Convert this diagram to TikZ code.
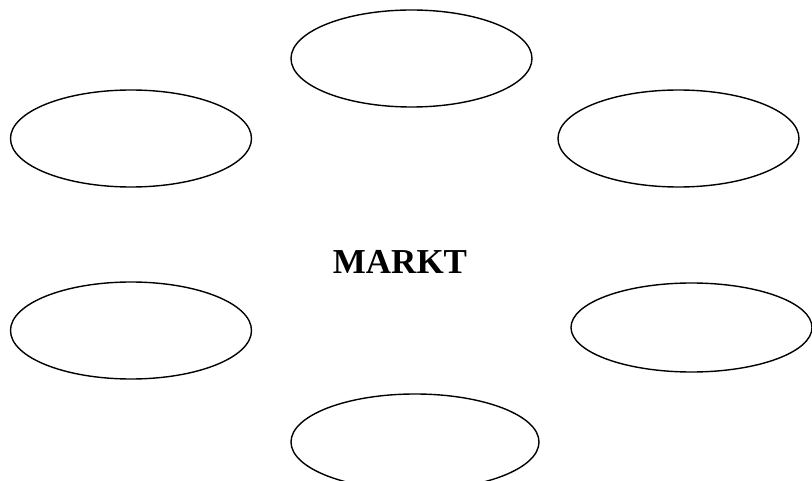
\documentclass[tikz,border=0pt]{standalone}
\usepackage{fontspec}
\setmainfont{Liberation Serif}
\usetikzlibrary{shapes.geometric}
\begin{document}
\begin{tikzpicture}[x=1pt,y=-1pt,
  oval/.style={draw=black,line width=1.4pt,ellipse,inner sep=0pt,outer sep=0pt,minimum width=241pt,minimum height=97pt},
  title/.style={font=\bfseries\fontsize{35}{40}\selectfont,anchor=base}]
\useasboundingbox (0,0) rectangle (812,481);
\node[oval] (top) at (411.5,58.5) {};
\node[oval] (ul) at (131,138.5) {};
\node[oval] (ur) at (678.5,138.5) {};
\node[oval] (ll) at (131,330.5) {};
\node[oval,minimum height=89pt] (lr) at (691.5,327.5) {};
\node[oval,minimum width=248pt,minimum height=96pt] (bot) at (415,442) {};
\node[title] (markt) at (400,274) {MARKT};
\end{tikzpicture}
\end{document}
